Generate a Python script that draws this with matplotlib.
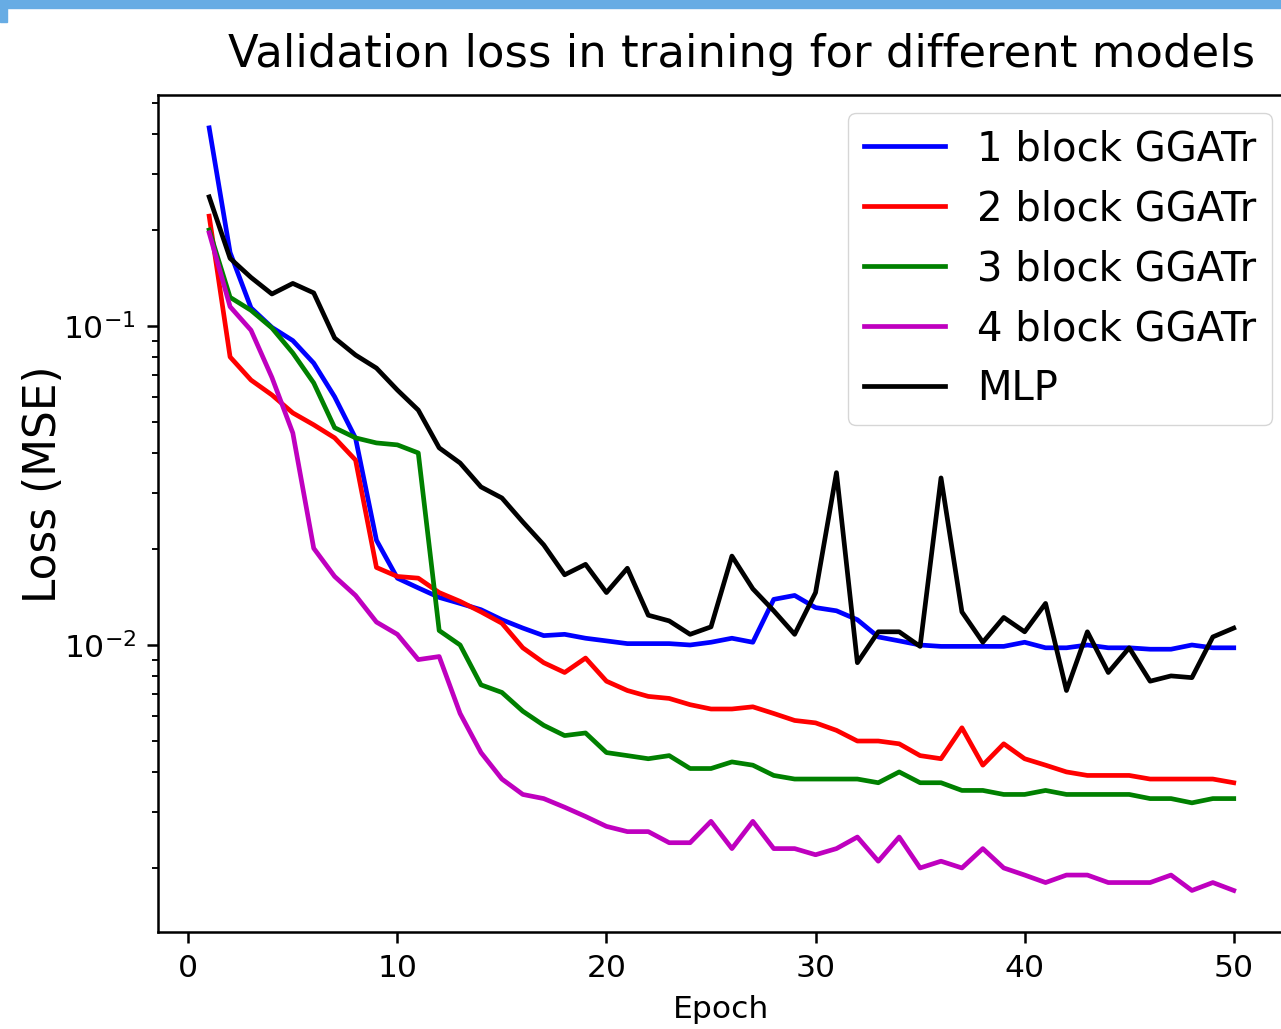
import matplotlib
matplotlib.use("Agg")
import matplotlib.pyplot as plt
from matplotlib.patches import Rectangle

# -----------------------------
# data
# -----------------------------
epochs = list(range(1, 51))

loss_1block = [0.418, 0.170, 0.114, 0.099, 0.090, 0.0765, 0.0600, 0.0445, 0.0213, 0.0162,
               0.0151, 0.0141, 0.0135, 0.0129, 0.0120, 0.0113, 0.0107, 0.0108, 0.0105, 0.0103,
               0.0101, 0.0101, 0.0101, 0.0100, 0.0102, 0.0105, 0.0102, 0.0139, 0.0143, 0.0131,
               0.0128, 0.0120, 0.0106, 0.0103, 0.0100, 0.0099, 0.0099, 0.0099, 0.0099, 0.0102,
               0.0098, 0.0098, 0.0100, 0.0098, 0.0098, 0.0097, 0.0097, 0.0100, 0.0098, 0.0098]

loss_2block = [0.221, 0.080, 0.0677, 0.0608, 0.0534, 0.0490, 0.0446, 0.0380, 0.0175, 0.0164,
               0.0162, 0.0146, 0.0137, 0.0127, 0.0117, 0.0098, 0.0088, 0.0082, 0.0091, 0.0077,
               0.0072, 0.0069, 0.0068, 0.0065, 0.0063, 0.0063, 0.0064, 0.0061, 0.0058, 0.0057,
               0.0054, 0.0050, 0.0050, 0.0049, 0.0045, 0.0044, 0.0055, 0.0042, 0.0049, 0.0044,
               0.0042, 0.0040, 0.0039, 0.0039, 0.0039, 0.0038, 0.0038, 0.0038, 0.0038, 0.0037]

loss_3block = [0.200, 0.123, 0.112, 0.0986, 0.0823, 0.0663, 0.0480, 0.0446, 0.0430, 0.0424,
               0.0400, 0.0111, 0.0100, 0.0075, 0.0071, 0.0062, 0.0056, 0.0052, 0.0053, 0.0046,
               0.0045, 0.0044, 0.0045, 0.0041, 0.0041, 0.0043, 0.0042, 0.0039, 0.0038, 0.0038,
               0.0038, 0.0038, 0.0037, 0.0040, 0.0037, 0.0037, 0.0035, 0.0035, 0.0034, 0.0034,
               0.0035, 0.0034, 0.0034, 0.0034, 0.0034, 0.0033, 0.0033, 0.0032, 0.0033, 0.0033]

loss_4block = [0.196, 0.115, 0.097, 0.0690, 0.0462, 0.0201, 0.0164, 0.0143, 0.0118, 0.0108,
               0.0090, 0.0092, 0.0061, 0.0046, 0.0038, 0.0034, 0.0033, 0.0031, 0.0029, 0.0027,
               0.0026, 0.0026, 0.0024, 0.0024, 0.0028, 0.0023, 0.0028, 0.0023, 0.0023, 0.0022,
               0.0023, 0.0025, 0.0021, 0.0025, 0.0020, 0.0021, 0.0020, 0.0023, 0.0020, 0.0019,
               0.0018, 0.0019, 0.0019, 0.0018, 0.0018, 0.0018, 0.0019, 0.0017, 0.0018, 0.0017]

loss_mlp = [0.254, 0.163, 0.142, 0.126, 0.136, 0.127, 0.0917, 0.0811, 0.0738, 0.0630,
            0.0545, 0.0415, 0.0372, 0.0313, 0.0289, 0.0243, 0.0206, 0.0166, 0.0179, 0.0146,
            0.0174, 0.0124, 0.0119, 0.0108, 0.0114, 0.0190, 0.0150, 0.0128, 0.0108, 0.0146,
            0.0347, 0.0088, 0.0110, 0.0110, 0.0099, 0.0334, 0.0127, 0.0102, 0.0122, 0.0110,
            0.0135, 0.0072, 0.0110, 0.0082, 0.0098, 0.0077, 0.0080, 0.0079, 0.0106, 0.0113]

labels = ["1 block GGATr", "2 block GGATr", "3 block GGATr", "4 block GGATr", "MLP"]
colors = ["blue", "red", "green", "m", "black"]

# -----------------------------
# plot (original is a scaled-up default matplotlib figure)
# -----------------------------
s = 2.26
plt.rcParams["font.family"] = ["DejaVu Sans"]
plt.rcParams["axes.linewidth"] = 0.8 * s
plt.rcParams["xtick.major.size"] = 3.5 * s
plt.rcParams["ytick.major.size"] = 3.5 * s
plt.rcParams["xtick.minor.size"] = 2 * s
plt.rcParams["ytick.minor.size"] = 2 * s
plt.rcParams["xtick.major.width"] = 0.8 * s
plt.rcParams["ytick.major.width"] = 0.8 * s
plt.rcParams["ytick.minor.width"] = 0.6 * s
plt.rcParams["xtick.major.pad"] = 3.5 * s
plt.rcParams["ytick.major.pad"] = 3.5 * s

fig = plt.figure(figsize=(12.81, 10.29), dpi=100)
ax = fig.add_axes([0.1233, 0.0943, 0.8798, 0.8134])

series = [loss_1block, loss_2block, loss_3block, loss_4block, loss_mlp]
for ys, lab, c in zip(series, labels, colors):
    ax.plot(epochs, ys, color=c, linewidth=1.5 * s, label=lab)

ax.set_yscale("log")
ax.set_xlim(-1.45, 52.45)
ax.set_ylim(0.00126, 0.53)
ax.tick_params(axis="both", labelsize=10 * s)

ax.set_xlabel("Epoch", fontsize=10 * s, labelpad=4 * s)
ax.set_ylabel("Loss (MSE)", fontsize=14 * s)
ax.yaxis.set_label_coords(-0.0825, 0.535)
ax.set_title("Validation loss in training for different models", fontsize=14.3 * s,
             pad=20, x=0.518)

ax.legend(loc="upper right", fontsize=12.8 * s, bbox_to_anchor=(0.9885, 0.9785),
          borderaxespad=0, framealpha=0.8)

# blue frame strip from the screenshot
fig.patches.append(Rectangle((0, 1 - 8 / 1029), 1, 8 / 1029, transform=fig.transFigure,
                             color="#67ace4", zorder=10))
fig.patches.append(Rectangle((0, 1 - 22 / 1029), 7 / 1281, 22 / 1029, transform=fig.transFigure,
                             color="#67ace4", zorder=10))

fig.savefig("out.png", dpi=100)
